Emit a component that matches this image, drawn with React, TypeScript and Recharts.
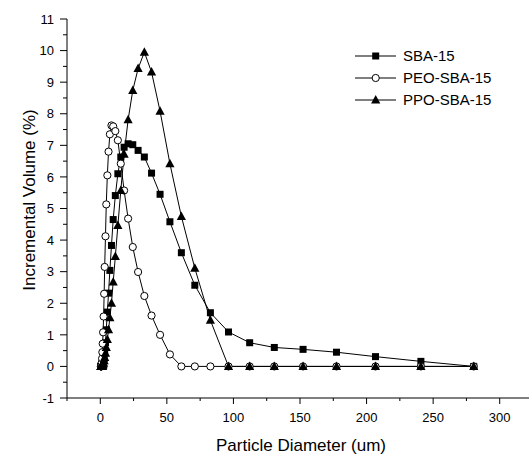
import React from 'react';
import { LineChart, Line, XAxis, YAxis, Legend } from 'recharts';

// Particle diameter bins (um)
const diameters = [
  0.46, 0.54, 0.63, 0.73, 0.85, 1.0, 1.15, 1.35, 1.55, 1.8,
  2.1, 2.5, 2.9, 3.3, 3.9, 4.5, 5.3, 6.2, 7.2, 8.4,
  9.7, 11.3, 13.2, 15.4, 17.9, 20.9, 24.4, 28.4, 33.1, 38.5,
  44.9, 52.3, 60.9, 71.0, 82.7, 96.3, 112.2, 130.7, 152.3, 177.4,
  206.7, 240.8, 280.5,
];

// Incremental volume (%) per series
const sba15 = [
  0, 0, 0, 0, 0, 0, 0, 0, 0, 0,
  0.05, 0.12, 0.25, 0.45, 0.75, 1.16, 1.72, 2.32, 3.04, 3.83,
  4.65, 5.41, 6.10, 6.63, 6.94, 7.05, 7.02, 6.84, 6.63, 6.12,
  5.45, 4.58, 3.60, 2.57, 1.70, 1.09, 0.75, 0.60, 0.54, 0.45,
  0.31, 0.16, 0,
];

const peoSba15 = [
  0, 0, 0, 0, 0.02, 0.05, 0.12, 0.25, 0.45, 0.72,
  1.08, 1.58, 2.30, 3.15, 4.12, 5.13, 6.05, 6.80, 7.35, 7.63,
  7.60, 7.45, 7.16, 6.42, 5.57, 4.68, 3.78, 2.99, 2.23, 1.61,
  1.00, 0.38, 0, 0, 0, 0, 0, 0, 0, 0,
  0, 0, 0,
];

const ppoSba15 = [
  0, 0, 0, 0, 0, 0, 0, 0, 0, 0.02,
  0.05, 0.10, 0.18, 0.28, 0.42, 0.60, 0.85, 1.16, 1.54, 2.00,
  2.67, 3.48, 4.46, 5.57, 6.72, 7.81, 8.74, 9.43, 9.95, 9.32,
  8.08, 6.42, 4.75, 3.11, 1.46, 0, 0, 0, 0, 0,
  0, 0, 0,
];

const seriesNames = ['SBA-15', 'PEO-SBA-15', 'PPO-SBA-15'];

const xTicks = [-25, 0, 25, 50, 75, 100, 125, 150, 175, 200, 225, 250, 275, 300, 325];
const yTicks = [
  -1, -0.5, 0, 0.5, 1, 1.5, 2, 2.5, 3, 3.5, 4, 4.5, 5, 5.5, 6, 6.5, 7, 7.5,
  8, 8.5, 9, 9.5, 10, 10.5, 11,
];

const FONT = 'Liberation Sans, Arial, sans-serif';

const toPoints = (ys: number[]) => diameters.map((x, i) => ({ x, y: ys[i] }));

const SquareMark = ({ cx, cy }: { cx: number; cy: number }) => (
  <rect x={cx - 3.5} y={cy - 3.5} width={7} height={7} fill="#000" />
);
const CircleMark = ({ cx, cy }: { cx: number; cy: number }) => (
  <circle cx={cx} cy={cy} r={3.6} fill="#fff" stroke="#000" strokeWidth={1} />
);
const TriangleMark = ({ cx, cy }: { cx: number; cy: number }) => (
  <polygon
    points={`${cx},${cy - 5} ${cx - 4.6},${cy + 3.5} ${cx + 4.6},${cy + 3.5}`}
    fill="#000"
  />
);

const marks = [SquareMark, CircleMark, TriangleMark];

const XTick = (props: any) => {
  const { x, y, payload } = props;
  const v = payload.value as number;
  const major = v % 50 === 0;
  return (
    <g>
      <line x1={x} x2={x} y1={y} y2={y + (major ? 6 : 3)} stroke="#000" strokeWidth={1} />
      {major && (
        <text x={x} y={y + 24} textAnchor="middle" fontSize={13} fontFamily={FONT} fill="#000">
          {v}
        </text>
      )}
    </g>
  );
};

const YTick = (props: any) => {
  const { x, y, payload } = props;
  const v = payload.value as number;
  const major = Number.isInteger(v);
  return (
    <g>
      <line x1={x - (major ? 7 : 4)} x2={x} y1={y} y2={y} stroke="#000" strokeWidth={1} />
      {major && (
        <text x={x - 13} y={y} dy="0.36em" textAnchor="end" fontSize={13} fontFamily={FONT} fill="#000">
          {v}
        </text>
      )}
    </g>
  );
};

const LegendBox = () => (
  <svg width={180} height={70} style={{ display: 'block' }}>
    {seriesNames.map((name, i) => {
      const Mark = marks[i];
      const cy = 12 + i * 22;
      return (
        <g key={name}>
          <line x1={5} x2={46} y1={cy} y2={cy} stroke="#000" strokeWidth={1} />
          <Mark cx={25.7} cy={cy} />
          <text x={53} y={cy} dy="0.36em" fontSize={15} fontFamily={FONT} fill="#000">
            {name}
          </text>
        </g>
      );
    })}
  </svg>
);

export default function App() {
  const series = [sba15, peoSba15, ppoSba15];
  return (
    <div
      style={{
        position: 'fixed',
        left: 0,
        top: 0,
        width: 529,
        height: 457,
        overflow: 'hidden',
        background: '#fff',
      }}
    >
      <LineChart
        width={533}
        height={457}
        margin={{ top: 19, right: 0, bottom: 0, left: 0 }}
        style={{ fontFamily: FONT }}
      >
        <XAxis
          dataKey="x"
          type="number"
          domain={[-25, 325]}
          ticks={xTicks}
          interval={0}
          allowDataOverflow
          height={59}
          tickSize={0}
          tickMargin={0}
          tickLine={false}
          tick={XTick}
          axisLine={{ stroke: '#000', strokeWidth: 1 }}
          label={{
            content: () => (
              <text x={301} y={451} textAnchor="middle" fontSize={17} fontFamily={FONT} fill="#000">
                Particle Diameter (um)
              </text>
            ),
          }}
        />
        <XAxis
          xAxisId="top"
          orientation="top"
          type="number"
          domain={[-25, 325]}
          height={0}
          tick={false}
          tickLine={false}
          axisLine={{ stroke: '#000', strokeWidth: 1 }}
        />
        <YAxis
          dataKey="y"
          type="number"
          domain={[-1, 11]}
          ticks={yTicks}
          interval={0}
          allowDataOverflow
          width={67}
          tickSize={0}
          tickMargin={0}
          tickLine={false}
          tick={YTick}
          axisLine={{ stroke: '#000', strokeWidth: 1 }}
          label={{
            content: () => (
              <text
                x={35}
                y={200}
                transform="rotate(-90 35 200)"
                textAnchor="middle"
                fontSize={17}
                fontFamily={FONT}
                fill="#000"
              >
                Incremental Volume (%)
              </text>
            ),
          }}
        />
        <Legend
          layout="vertical"
          align="center"
          verticalAlign="middle"
          wrapperStyle={{ left: 350, top: 44, width: 180, height: 70 }}
          content={() => <LegendBox />}
        />
        {series.map((ys, i) => {
          const Mark = marks[i];
          return (
            <Line
              key={seriesNames[i]}
              name={seriesNames[i]}
              data={toPoints(ys)}
              dataKey="y"
              type="linear"
              stroke="#000"
              strokeWidth={1}
              isAnimationActive={false}
              dot={(p: any) => <Mark key={`${i}-${p.index}`} cx={p.cx} cy={p.cy} />}
              activeDot={false}
            />
          );
        })}
      </LineChart>
    </div>
  );
}
